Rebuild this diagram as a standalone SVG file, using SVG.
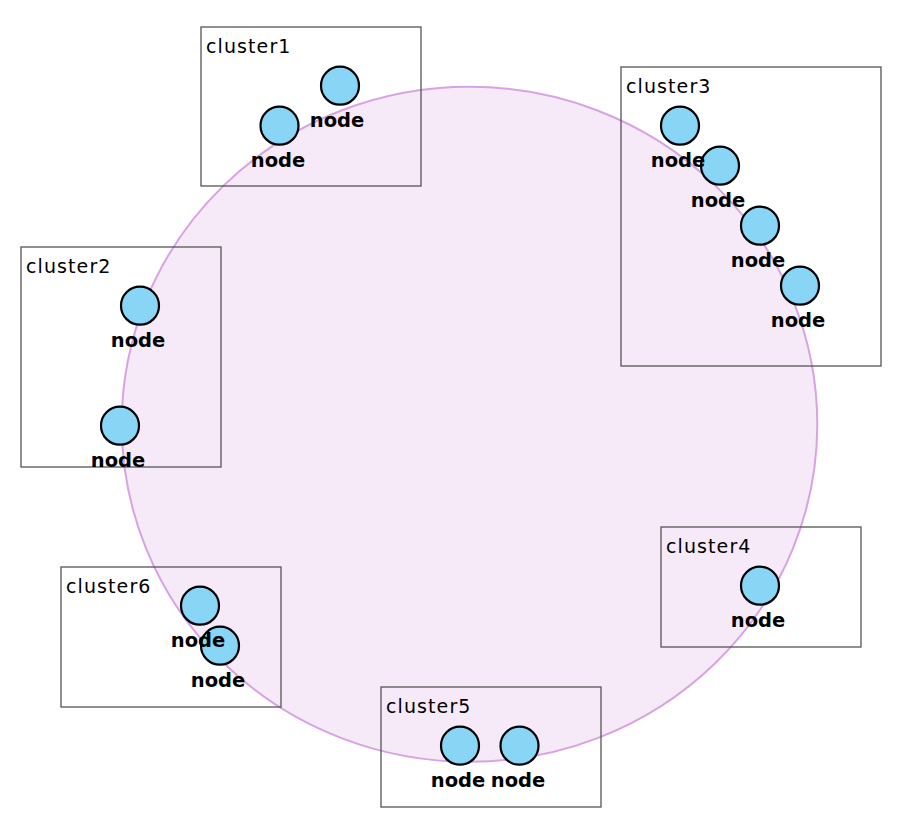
<svg xmlns="http://www.w3.org/2000/svg" width="906" height="830" viewBox="0 0 906 830">
<style>
.ring{fill:#f6eaf8;stroke:#d7a3e2;stroke-width:2}
.cl{fill:none;stroke:#555;stroke-width:1.3}
.ct{font-family:"DejaVu Sans",sans-serif;font-size:19px;letter-spacing:1.1px;fill:#000}
.nd{fill:#88d5f5;stroke:#000;stroke-width:2.2}
.nt{font-family:"DejaVu Sans",sans-serif;font-weight:bold;font-size:19.5px;text-anchor:middle;fill:#000}
</style>
<rect width="906" height="830" fill="#fff"/>
<ellipse class="ring" cx="469.5" cy="424.3" rx="347.8" ry="337.5"/>
<g id="connectors"/>
<g id="cluster1"><rect class="cl" x="201" y="27" width="220" height="159"/><text class="ct" x="206" y="53">cluster1</text></g>
<g id="cluster2"><rect class="cl" x="21" y="247" width="200" height="220"/><text class="ct" x="26" y="273">cluster2</text></g>
<g id="cluster3"><rect class="cl" x="621" y="67" width="260" height="299"/><text class="ct" x="626" y="93">cluster3</text></g>
<g id="cluster4"><rect class="cl" x="661" y="527" width="200" height="120"/><text class="ct" x="666" y="553">cluster4</text></g>
<g id="cluster5"><rect class="cl" x="381" y="687" width="220" height="120"/><text class="ct" x="386" y="713">cluster5</text></g>
<g id="cluster6"><rect class="cl" x="61" y="567" width="220" height="140"/><text class="ct" x="66" y="593">cluster6</text></g>
<g id="n1b"><circle class="nd" cx="279.5" cy="125.7" r="19"/><text class="nt" x="278" y="166.5">node</text></g>
<g id="n1a"><circle class="nd" cx="340" cy="85.7" r="19"/><text class="nt" x="337" y="126.5">node</text></g>
<g id="n2a"><circle class="nd" cx="140" cy="305.7" r="19"/><text class="nt" x="138" y="346.5">node</text></g>
<g id="n2b"><circle class="nd" cx="120" cy="425.7" r="19"/><text class="nt" x="118" y="466.5">node</text></g>
<g id="n3d"><circle class="nd" cx="800" cy="285.7" r="19"/><text class="nt" x="798" y="326.5">node</text></g>
<g id="n3c"><circle class="nd" cx="760" cy="225.7" r="19"/><text class="nt" x="758" y="266.5">node</text></g>
<g id="n3b"><circle class="nd" cx="720" cy="165.7" r="19"/><text class="nt" x="718" y="206.5">node</text></g>
<g id="n3a"><circle class="nd" cx="680" cy="125.7" r="19"/><text class="nt" x="678" y="166.5">node</text></g>
<g id="n4a"><circle class="nd" cx="760" cy="585.7" r="19"/><text class="nt" x="758" y="626.5">node</text></g>
<g id="n5a"><circle class="nd" cx="460" cy="745.7" r="19"/><text class="nt" x="458" y="786.5">node</text></g>
<g id="n5b"><circle class="nd" cx="519.5" cy="745.7" r="19"/><text class="nt" x="518" y="786.5">node</text></g>
<g id="n6b"><circle class="nd" cx="220" cy="645.7" r="19"/><text class="nt" x="218" y="686.5">node</text></g>
<g id="n6a"><circle class="nd" cx="200" cy="605.7" r="19"/><text class="nt" x="198" y="646.5">node</text></g>
</svg>
